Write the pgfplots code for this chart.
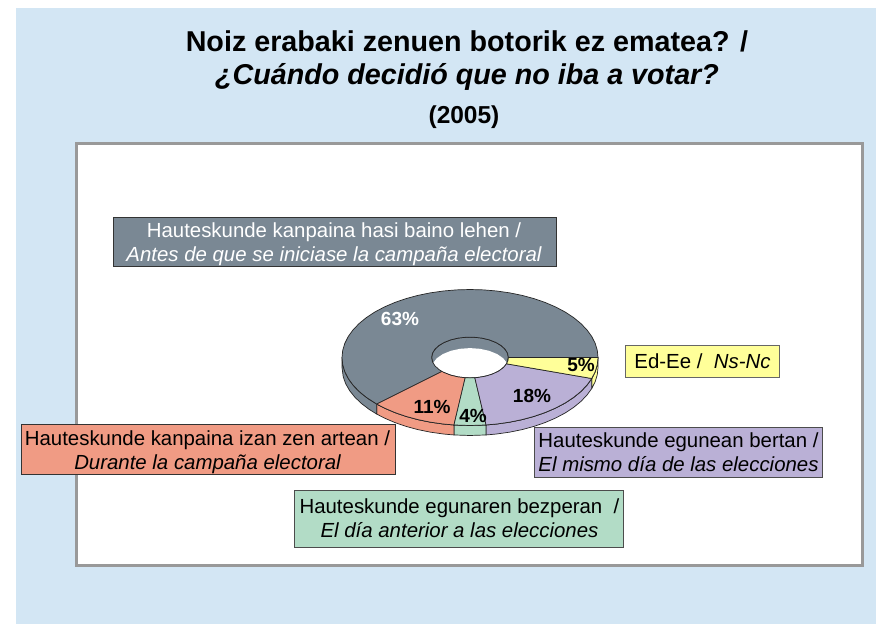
\documentclass[border=0pt]{standalone}
\usepackage{fontspec}
\setmainfont{Liberation Sans}
\usepackage{pgfplots}
\pgfplotsset{compat=1.18}
\usepgfplotslibrary{polar}

\definecolor{pagebg}{RGB}{211,230,244}
\definecolor{framegr}{RGB}{153,153,153}
\definecolor{cgrey}{RGB}{122,136,148}
\definecolor{cyellow}{RGB}{255,255,153}
\definecolor{cpurple}{RGB}{186,176,214}
\definecolor{cgreen}{RGB}{178,220,198}
\definecolor{csalmon}{RGB}{240,155,132}

\begin{document}
\begin{tikzpicture}[x=1pt,y=1pt]
\path[use as bounding box] (0,0) rectangle (876,-624);
\fill[pagebg] (16,-8) rectangle (876,-624);
\node[align=center, inner sep=0pt, font=\fontsize{28.7}{33}\selectfont\bfseries] at (467,-60.5)
  {Noiz erabaki zenuen botorik ez ematea? /\\ \itshape ¿Cuándo decidió que no iba a votar?};
\node[inner sep=0pt, font=\fontsize{24.5}{28}\selectfont\bfseries] at (464,-117) {(2005)};
\draw[draw=framegr, line width=3pt, fill=white] (76,-143.5) rectangle (862.5,-565);

\begin{axis}[
  at={(470pt,-357.5pt)}, anchor=center,
  scale only axis, width=256pt, height=136pt,
  xmin=-1, xmax=1, ymin=-1, ymax=1,
  hide axis, clip=false,
  every axis plot/.append style={draw=black!85, line width=0.7pt, line join=round},
]
% outer walls, y is sin(angle) and the lower arc is 10px down (0.147)
\addplot[fill=cyellow] coordinates {
  (1,0)(.9945,-.1045)(.9781,-.2079)(.9511,-.3090)
  (.9511,-.4560)(.9781,-.3549)(.9945,-.2515)(1,-.147)} -- cycle;
\addplot[fill=cpurple] coordinates {
  (.9511,-.3090)(.9135,-.4067)(.8660,-.5)(.8090,-.5878)(.7431,-.6691)(.6691,-.7431)
  (.5878,-.8090)(.5,-.8660)(.4067,-.9135)(.3090,-.9511)(.2079,-.9781)(.1253,-.9921)
  (.1253,-1.1391)(.2079,-1.1251)(.3090,-1.0981)(.4067,-1.0605)(.5,-1.0130)(.5878,-.9560)
  (.6691,-.8901)(.7431,-.8161)(.8090,-.7348)(.8660,-.647)(.9135,-.5537)(.9511,-.4560)} -- cycle;
\addplot[fill=cgreen] coordinates {
  (.1253,-.9921)(0,-1)(-.1253,-.9921)
  (-.1253,-1.1391)(0,-1.147)(.1253,-1.1391)} -- cycle;
\addplot[fill=csalmon] coordinates {
  (-.1253,-.9921)(-.2079,-.9781)(-.3090,-.9511)(-.4067,-.9135)(-.5,-.8660)(-.5878,-.8090)(-.6691,-.7431)(-.7290,-.6845)
  (-.7290,-.8315)(-.6691,-.8901)(-.5878,-.9560)(-.5,-1.0130)(-.4067,-1.0605)(-.3090,-1.0981)(-.2079,-1.1251)(-.1253,-1.1391)} -- cycle;
\addplot[fill=cgrey] coordinates {
  (-.7290,-.6845)(-.7880,-.6157)(-.8480,-.5299)(-.8988,-.4384)(-.9397,-.3420)(-.9703,-.2419)(-.9903,-.1392)(-1,0)
  (-1,-.147)(-.9903,-.2862)(-.9703,-.3889)(-.9397,-.4890)(-.8988,-.5854)(-.8480,-.6769)(-.7880,-.7627)(-.7290,-.8315)} -- cycle;

% inner wall of the hole, then the hole itself
\addplot[data cs=polar, fill=cgrey] coordinates {
  (0,.3)(15,.3)(30,.3)(45,.3)(60,.3)(75,.3)(90,.3)(105,.3)(120,.3)(135,.3)(150,.3)(165,.3)
  (180,.3)(195,.3)(210,.3)(225,.3)(240,.3)(255,.3)(270,.3)(285,.3)(300,.3)(315,.3)(330,.3)(345,.3)} -- cycle;
\addplot[data cs=polar, fill=white, draw=none, yshift=-11pt] coordinates {
  (0,.3)(15,.3)(30,.3)(45,.3)(60,.3)(75,.3)(90,.3)(105,.3)(120,.3)(135,.3)(150,.3)(165,.3)
  (180,.3)(195,.3)(210,.3)(225,.3)(240,.3)(255,.3)(270,.3)(285,.3)(300,.3)(315,.3)(330,.3)(345,.3)} -- cycle;

% top faces: 63 %, 11 %, 4 %, 18 %, 5 %, angle then radius
\addplot[data cs=polar, fill=cgrey] coordinates {
  (223.2,1)(228,1)(234,1)(240,1)(246,1)(252,1)(258,1)(264,1)(270,1)
  (276,1)(282,1)(288,1)(294,1)(300,1)(306,1)(312,1)(318,1)(324,1)(330,1)(336,1)(342,1)(348,1)(354,1)(360,1)
  (6,1)(12,1)(18,1)(24,1)(30,1)(36,1)(42,1)(48,1)(54,1)(60,1)(66,1)(72,1)(78,1)(84,1)(90,1)
  (96,1)(102,1)(108,1)(114,1)(120,1)(126,1)(132,1)(138,1)(144,1)(150,1)(156,1)(162,1)(168,1)(174,1)(180,1)
  (186,1)(192,1)(198,1)(204,1)(210,1)(216,1)(223.2,1)
  (223.2,.3)(216,.3)(204,.3)(192,.3)(180,.3)(168,.3)(156,.3)(144,.3)(132,.3)(120,.3)(108,.3)(96,.3)(84,.3)(72,.3)(60,.3)(48,.3)(36,.3)(24,.3)(12,.3)(0,.3)
  (348,.3)(336,.3)(324,.3)(312,.3)(300,.3)(288,.3)(276,.3)(264,.3)(252,.3)(240,.3)(228,.3)} -- cycle;
\addplot[data cs=polar, fill=csalmon] coordinates {
  (223.2,1)(228,1)(234,1)(240,1)(246,1)(252,1)(258,1)(262.8,1)
  (262.8,.3)(252,.3)(240,.3)(228,.3)(223.2,.3)} -- cycle;
\addplot[data cs=polar, fill=cgreen] coordinates {
  (262.8,1)(270,1)(277.2,1)(277.2,.3)(270,.3)(262.8,.3)} -- cycle;
\addplot[data cs=polar, fill=cpurple] coordinates {
  (277.2,1)(282,1)(288,1)(294,1)(300,1)(306,1)(312,1)(318,1)(324,1)(330,1)(336,1)(342,1)
  (342,.3)(330,.3)(318,.3)(306,.3)(294,.3)(282,.3)(277.2,.3)} -- cycle;
\addplot[data cs=polar, fill=cyellow] coordinates {
  (342,1)(348,1)(354,1)(360,1)(360,.3)(351,.3)(342,.3)} -- cycle;
\end{axis}

\begin{scope}[every node/.style={inner sep=0pt, font=\fontsize{19}{20}\selectfont\bfseries}]
\node[white] at (400,-319) {63\%};
\node at (581,-365) {5\%};
\node at (532,-396) {18\%};
\node at (432,-407) {11\%};
\node at (473,-416) {4\%};
\end{scope}

\draw[draw=black!80, line width=0.8pt, fill=cgrey] (113,-217) rectangle (556,-266.5);
\node[white, align=center, inner sep=0pt, font=\fontsize{20.4}{24}\selectfont] at (334,-244)
  {Hauteskunde kanpaina hasi baino lehen /\\ \itshape Antes de que se iniciase la campaña electoral};
\draw[draw=black!80, line width=0.8pt, fill=csalmon] (21,-424) rectangle (395.5,-474.5);
\node[align=center, inner sep=0pt, font=\fontsize{20.4}{24}\selectfont] at (207.5,-452)
  {Hauteskunde kanpaina izan zen artean /\\ \itshape Durante la campaña electoral};
\draw[draw=black!70, line width=0.8pt, fill=cgreen] (294.5,-490.5) rectangle (623,-547);
\node[align=center, inner sep=0pt, font=\fontsize{20.4}{24}\selectfont] at (459.5,-518)
  {Hauteskunde egunaren bezperan~~/\\ \itshape El día anterior a las elecciones};
\draw[draw=black!70, line width=0.8pt, fill=cpurple] (534.5,-427) rectangle (822.5,-477.5);
\node[align=center, inner sep=0pt, font=\fontsize{20.4}{24}\selectfont] at (678.5,-452)
  {Hauteskunde egunean bertan /\\ \itshape El mismo día de las elecciones};
\draw[draw=black!60, line width=0.8pt, fill=cyellow] (625.5,-345) rectangle (779,-377);
\node[inner sep=0pt, font=\fontsize{20.4}{24}\selectfont] at (702.5,-361.5)
  {Ed-Ee /~~\itshape Ns-Nc};
\end{tikzpicture}
\end{document}
